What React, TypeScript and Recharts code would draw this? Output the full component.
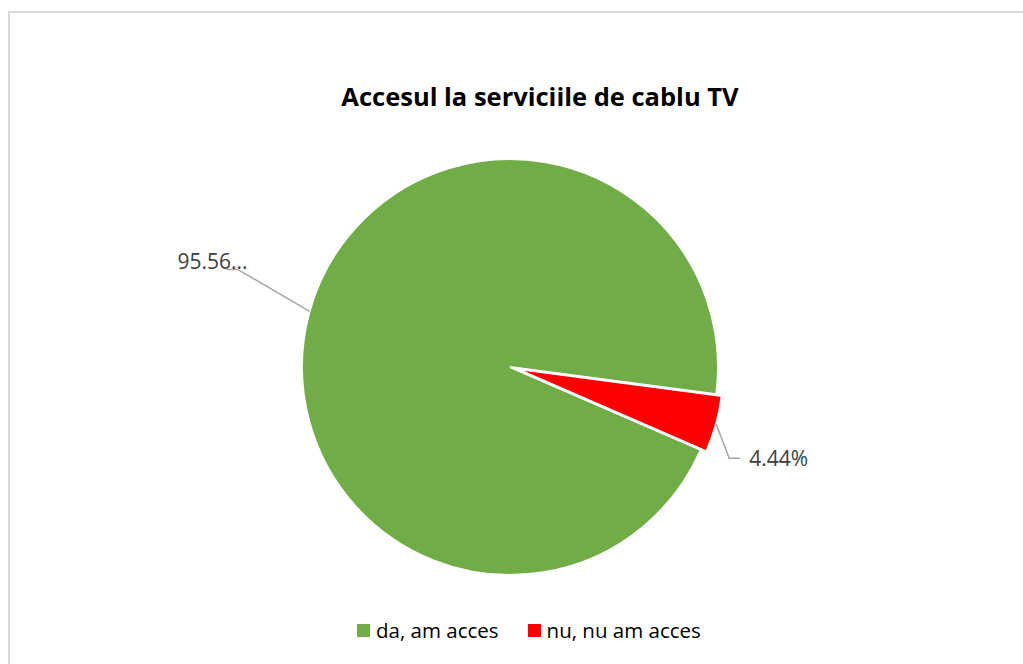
import React from "react";
import { PieChart, Pie, Cell, Legend } from "recharts";

const categories = ["da, am acces", "nu, nu am acces"];
const values = [95.56, 4.44];
const labelTexts = ["95.56...", "4.44%"];
const colors = ["#70AD47", "#FF0000"];
const title = "Accesul la serviciile de cablu TV";

const data = categories.map((name, i) => ({ name, value: values[i] }));

const W = 1023;
const H = 664;
const CX = 510;
const CY = 367;
const R = 208;
const START = -23.5;
const END = START - 360;
const EXPLODE = 6;
const RAD = Math.PI / 180;
const FONT = "'Open Sans', sans-serif";

// leader geometry per slice (relative offsets from arc point)
const leaders = [
  { elbow: [-72, -42], end: [-11, 0], text: [10, 0], anchor: "end" },
  { elbow: [13, 34], end: [11, 0], text: [20, 8], anchor: "start" },
];

const makeLabel = (which: number) => (props: any) => {
  const { cx, cy, midAngle, outerRadius, index } = props;
  if (index !== which) return null;
  const ax = cx + outerRadius * Math.cos(-midAngle * RAD);
  const ay = cy + outerRadius * Math.sin(-midAngle * RAD);
  const L = leaders[index];
  const ex = ax + L.elbow[0];
  const ey = ay + L.elbow[1];
  const fx = ex + L.end[0];
  const fy = ey + L.end[1];
  return (
    <g>
      <polyline
        points={`${ax},${ay} ${ex},${ey} ${fx},${fy}`}
        fill="none"
        stroke="#A6A6A6"
        strokeWidth={1.5}
      />
      <text
        x={ex + L.text[0]}
        y={ey + L.text[1]}
        textAnchor={L.anchor as any}
        fill="#404040"
        fontSize={21}
        fontFamily={FONT}
      >
        {labelTexts[index]}
      </text>
    </g>
  );
};

const renderLegend = () => (
  <div style={{ display: "flex", alignItems: "center", fontFamily: FONT, fontSize: 20.5, color: "#000", whiteSpace: "nowrap" }}>
    {categories.map((c, i) => (
      <div key={c} style={{ display: "flex", alignItems: "center", marginRight: 29 }}>
        <span style={{ display: "inline-block", width: 13, height: 13, background: colors[i], marginRight: 6 }} />
        <span>{c}</span>
      </div>
    ))}
  </div>
);

const midRed = (START - 360 * (values[0] / (values[0] + values[1])) + END) / 2;
const OX = CX + EXPLODE * Math.cos(-midRed * RAD);
const OY = CY + EXPLODE * Math.sin(-midRed * RAD);

export default function App() {
  return (
    <div style={{ position: "absolute", left: 0, top: 0, width: W, height: H, overflow: "hidden", background: "#fff" }}>
      <div style={{ position: "absolute", left: 8, top: 11, width: W - 8, height: 2, background: "#D9D9D9" }} />
      <div style={{ position: "absolute", left: 8, top: 11, width: 2, height: H - 11, background: "#D9D9D9" }} />
      <div
        style={{
          position: "absolute",
          left: 0,
          width: 1080,
          top: 80,
          textAlign: "center",
          fontFamily: FONT,
          fontWeight: 700,
          fontSize: 25.5,
          color: "#000",
          lineHeight: "32px",
          whiteSpace: "nowrap",
        }}
      >
        {title}
      </div>
      <div style={{ position: "absolute", left: 0, top: 0 }}>
        <PieChart width={W} height={H} margin={{ top: 0, right: 0, bottom: 0, left: 0 }}>
          <Pie
            data={data}
            dataKey="value"
            nameKey="name"
            cx={CX}
            cy={CY}
            outerRadius={R}
            startAngle={START}
            endAngle={END}
            isAnimationActive={false}
            label={makeLabel(0)}
            labelLine={false}
            stroke="#FFFFFF"
            strokeWidth={2}
          >
            {data.map((d, i) => (
              <Cell key={d.name} fill={i === 0 ? colors[0] : "transparent"} stroke={i === 0 ? "#FFFFFF" : "none"} />
            ))}
          </Pie>
          <Pie
            data={data}
            dataKey="value"
            nameKey="name"
            cx={OX}
            cy={OY}
            outerRadius={R}
            startAngle={START}
            endAngle={END}
            isAnimationActive={false}
            label={makeLabel(1)}
            labelLine={false}
            stroke="#FFFFFF"
            strokeWidth={2.5}
          >
            {data.map((d, i) => (
              <Cell key={d.name} fill={i === 1 ? colors[1] : "transparent"} stroke={i === 1 ? "#FFFFFF" : "none"} />
            ))}
          </Pie>
          <Legend
            content={renderLegend}
            wrapperStyle={{ position: "absolute", left: 357, top: 616, width: "auto", bottom: "auto" }}
          />
        </PieChart>
      </div>
    </div>
  );
}
